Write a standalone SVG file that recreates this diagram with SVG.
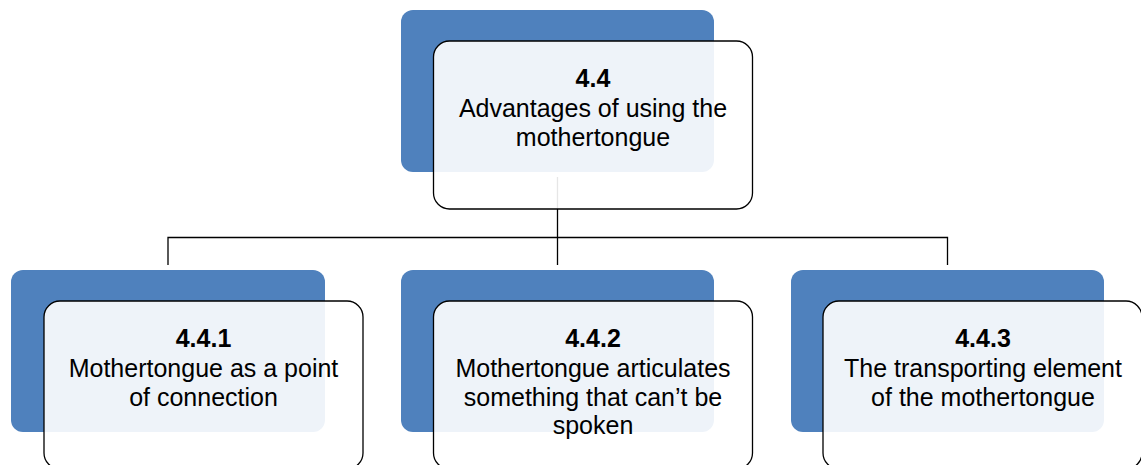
<svg xmlns="http://www.w3.org/2000/svg" width="1141" height="465" viewBox="0 0 1141 465">
<style>
.bg{fill:#4F81BD}
.fr{fill:#FFFFFF;fill-opacity:0.9;stroke:#000;stroke-width:1.3}
.ln{stroke:#000;stroke-width:1.3;fill:none}
text{font-family:"Liberation Sans",Arial,sans-serif;font-size:25px;fill:#000;text-anchor:middle}
.b{font-weight:bold}
</style>
<rect width="1141" height="465" fill="#fff"/>
<g id="connectors">
<path class="ln" d="M557.5 177V237.5M168 265V237.5H947.5V265M557.5 237.5V265"/>
</g>
<g id="node-4.4">
<rect class="bg" x="401" y="10" width="313" height="162" rx="12"/>
<rect class="fr" x="433.5" y="41" width="319" height="168" rx="16"/>
<text x="593" y="87" class="b">4.4</text>
<text x="593" y="117">Advantages of using the</text>
<text x="593" y="146">mothertongue</text>
</g>
<g id="node-4.4.1">
<rect class="bg" x="11" y="270" width="314" height="162" rx="12"/>
<rect class="fr" x="44" y="301" width="319" height="168" rx="16"/>
<text x="203.5" y="347" class="b">4.4.1</text>
<text x="203.5" y="377">Mothertongue as a point</text>
<text x="203.5" y="406">of connection</text>
</g>
<g id="node-4.4.2">
<rect class="bg" x="401" y="270" width="313" height="162" rx="12"/>
<rect class="fr" x="433.5" y="301" width="319" height="168" rx="16"/>
<text x="593" y="347" class="b">4.4.2</text>
<text x="593" y="377">Mothertongue articulates</text>
<text x="593" y="406">something that can’t be</text>
<text x="593" y="434">spoken</text>
</g>
<g id="node-4.4.3">
<rect class="bg" x="791" y="270" width="313" height="162" rx="12"/>
<rect class="fr" x="823" y="301" width="319" height="168" rx="16"/>
<text x="983" y="347" class="b">4.4.3</text>
<text x="983" y="377">The transporting element</text>
<text x="983" y="406">of the mothertongue</text>
</g>
</svg>
